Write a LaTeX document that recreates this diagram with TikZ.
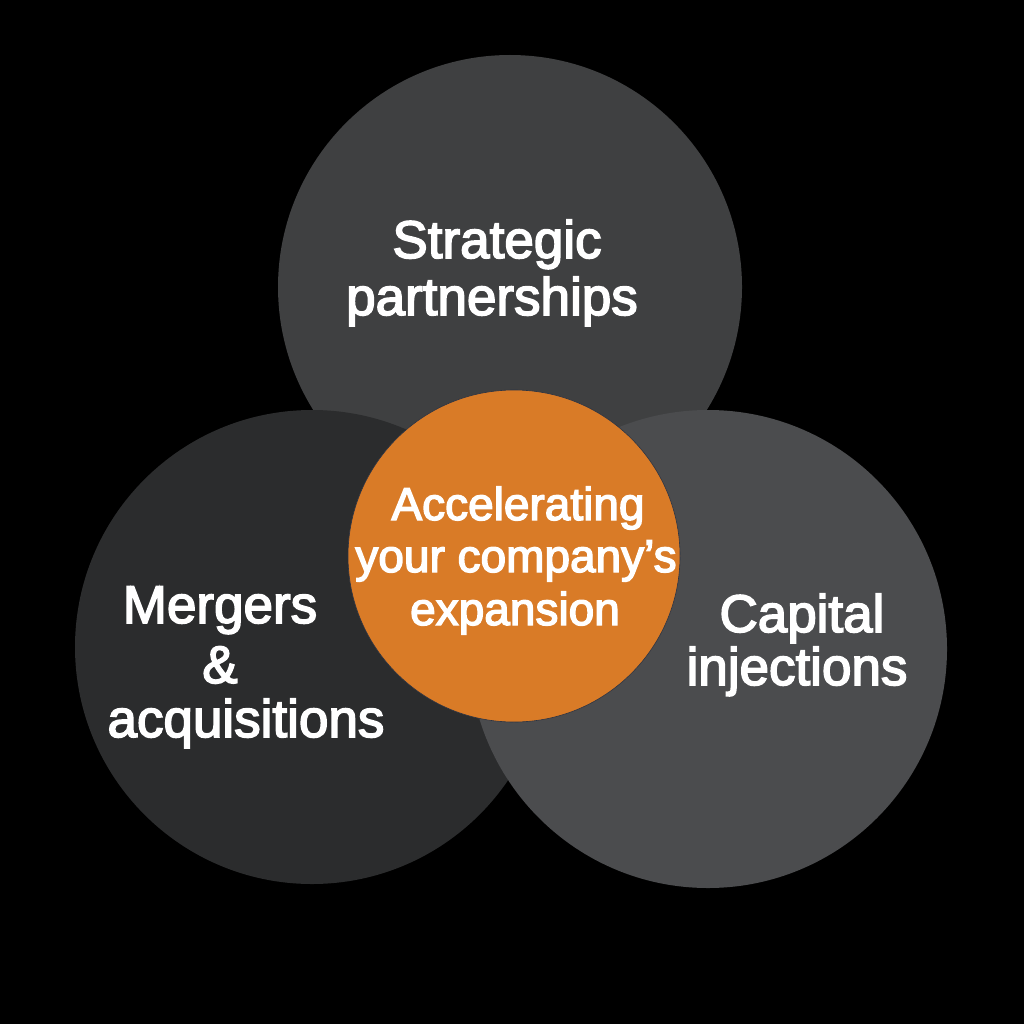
\documentclass[tikz,border=0pt]{standalone}
\usepackage{fontspec}
\setmainfont{Liberation Sans}[BoldFont={Liberation Sans},BoldFeatures={FakeBold=3}]
\definecolor{bgc}{HTML}{000000}
\definecolor{topc}{HTML}{3F4041}
\definecolor{leftc}{HTML}{2B2C2D}
\definecolor{rightc}{HTML}{4B4C4E}
\definecolor{orc}{HTML}{D97B27}
\definecolor{edgec}{HTML}{2A3344}
\tikzset{
  bub/.style={circle,inner sep=0pt,draw=none},
  outer/.style={anchor=base,text=white,inner sep=0pt,font=\bfseries\fontsize{53}{58}\selectfont},
  inner/.style={anchor=base,text=white,inner sep=0pt,font=\bfseries\fontsize{46}{52}\selectfont}
}
\begin{document}
\begin{tikzpicture}[x=1pt,y=-1pt]
\fill[bgc] (0,0) rectangle (1024,1024);
\useasboundingbox (0,0) rectangle (1024,1024);
\node[bub,fill=topc,minimum size=464pt] (top) at (510,287) {};
\node[bub,fill=leftc,minimum size=474pt] (left) at (312,647) {};
\node[bub,fill=rightc,minimum size=478pt] (right) at (708,649) {};
\node[bub,fill=orc,draw=edgec,line width=0.6pt,minimum size=332pt] (ctr) at (514,556) {};
\node[outer] (sp1) at (497,258) {Strategic};
\node[outer] (sp2) at (492,315) {partnerships};
\node[outer] (ma1) at (220,623) {Mergers};
\node[outer] (ma2) at (220,683) {\&};
\node[outer] (ma3) at (246,737) {acquisitions};
\node[outer] (ci1) at (802,632) {Capital};
\node[outer] (ci2) at (797,685) {injections};
\node[inner] (ac1) at (518,520) {Accelerating};
\node[inner] (ac2) at (516,572) {your company’s};
\node[inner] (ac3) at (515,625) {expansion};
\end{tikzpicture}
\end{document}
